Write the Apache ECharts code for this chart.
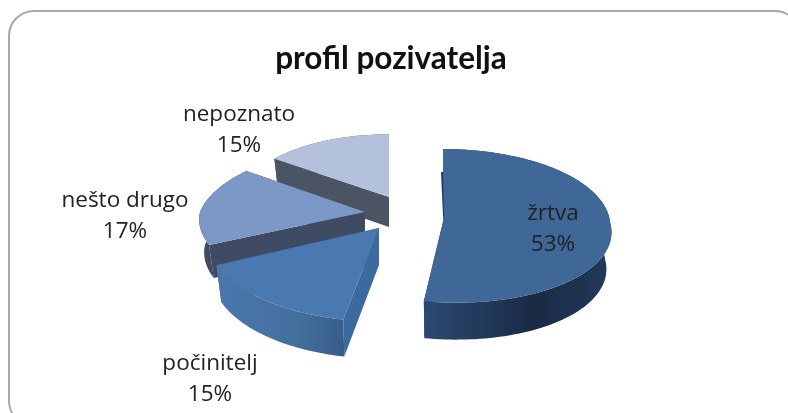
<!DOCTYPE html>
<html><head><meta charset="utf-8">
<style>html,body{margin:0;padding:0;background:#fff}#c{width:788px;height:413px}</style>
<script src="https://cdn.jsdelivr.net/npm/echarts@6/dist/echarts.min.js"></script>
</head><body><div id="c"></div>
<script>
const categories = ['žrtva', 'počinitelj', 'nešto drugo', 'nepoznato'];
const shares = [53, 15, 17, 15];
const titleText = 'profil pozivatelja';

// Per-slice exploded placement and colours of the 3D look (not data)
const look = [
  {ax:443,ay:222,rx:167,ry:76.6,p:0.05,d:37,shear:14,back:0,top:'#3f6797',cut:'#22395a',wall:['#2a4a73','#1a2a44','#223a5c'],lx:553,ly:214},
  {ax:379,ay:228,rx:172,ry:84,p:0.1,d:37,shear:0,back:0,top:'#4a78b0',cut:'#3d6a9e',wall:['#4a78ad','#44709f','#385d8a'],lx:210,ly:364},
  {ax:365,ay:212,rx:165,ry:74,p:0.1,d:33,shear:0,back:13,top:'#7b98c6',cut:'#3e4b62',wall:['#3e4b62','#3e4b62','#3e4b62'],lx:125,ly:201},
  {ax:389,ay:197,rx:150,ry:69,p:0.1,d:30,shear:0,back:0,top:'#b4c1dc',cut:'#4a5463',wall:['#4a5463','#4a5463','#4a5463'],lx:239,ly:115}
];

function project(l, theta) {
  const u = Math.sin(theta), v = Math.cos(theta), s = 1 / (1 + l.p * v);
  return [l.ax + l.rx * u * s - l.shear * Math.min(v, 0) + l.back * Math.max(v, 0), l.ay - l.ry * v * s];
}

const total = shares.reduce((a, b) => a + b, 0);
let acc = 0;
const spans = shares.map(v => { const a = acc / total * 2 * Math.PI; acc += v; return [a, acc / total * 2 * Math.PI]; });

function renderSlice(params, api) {
  const i = params.dataIndex, l = look[i], [a0, a1] = spans[i];
  const arc = [];
  const n = Math.max(8, Math.ceil((a1 - a0) / 0.03));
  for (let k = 0; k <= n; k++) arc.push(project(l, a0 + (a1 - a0) * k / n));
  const apex = [l.ax, l.ay];
  const down = p => [p[0] + (l.ax - p[0]) * 0.03, p[1] + l.d];
  const base = 10 - i;
  const kids = [];
  const poly = (points, fill, z) => kids.push({type:'polygon', shape:{points}, z2:z,
    style:{fill, stroke:'none'}});
  const grad = new echarts.graphic.LinearGradient(0, 0, 1, 0, [
    {offset:0, color:l.wall[0]}, {offset:0.6, color:l.wall[1]}, {offset:1, color:l.wall[2]}]);
  poly([apex, arc[0], down(arc[0]), down(apex)], l.cut, base);
  poly([apex, arc[n], down(arc[n]), down(apex)], l.cut, base);
  poly(arc.concat(arc.slice().reverse().map(down)), grad, base + 0.5);
  poly([apex].concat(arc), l.top, base + 1);
  if (i === 0) poly([[l.ax - 2, l.ay - 50], [l.ax, l.ay - 50], [l.ax + 1, l.ay - 6], [l.ax, l.ay - 6]], l.cut, base + 2);
  kids.push({type:'text', z2:50, style:{
    x:l.lx, y:l.ly, text:categories[i] + '\n' + shares[i] + '%', fill:'#222',
    font:'22.5px "Open Sans", sans-serif', align:'center', verticalAlign:'middle', lineHeight:31
  }, y:15});
  return {type:'group', children:kids};
}

const chart = echarts.init(document.getElementById('c'), null, {renderer:'canvas'});
chart.setOption({
  animation:false,
  backgroundColor:'#fff',
  title:{text:titleText, left:386, top:38, textAlign:'center',
    textStyle:{fontFamily:'Lato', fontWeight:'bold', fontSize:31.5, color:'#111'}},
  graphic:[{type:'rect', z:-1, shape:{x:9, y:11, width:791, height:415, r:25},
    style:{fill:'#fff', stroke:'#a8a8a8', lineWidth:2}}],
  series:[{type:'custom', coordinateSystem:'none', renderItem:renderSlice,
    data:categories.map((name, i) => ({name, value:shares[i]}))}]
});
</script></body></html>
